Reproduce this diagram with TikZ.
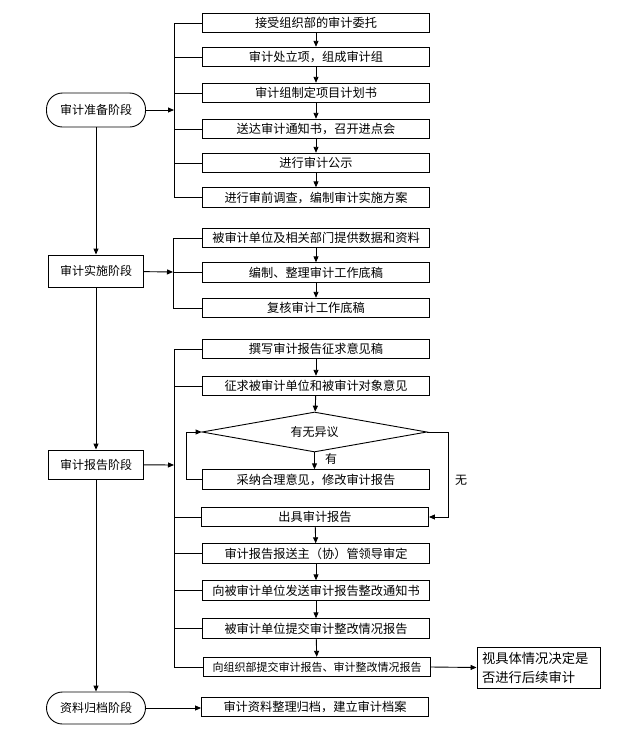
\documentclass[tikz,border=0pt]{standalone}
\usepackage{fontspec}
\setmainfont{Noto Sans CJK SC}
\usetikzlibrary{arrows.meta,shapes.geometric}
\begin{document}
\begin{tikzpicture}[x=1pt,y=-1pt, line width=0.9pt,
  box/.style={draw, rectangle, minimum width=227pt, minimum height=19.5pt, inner sep=0pt, font=\fontsize{12.2}{14}\selectfont},
  stage/.style={draw, rectangle, minimum width=95pt, minimum height=32pt, inner sep=0pt, font=\fontsize{12}{14}\selectfont},
  rstage/.style={stage, minimum width=99pt, rounded corners=16pt},
  dia/.style={draw, diamond, aspect=5.6, minimum width=225pt, minimum height=40pt, inner sep=0pt, font=\fontsize{12}{14}\selectfont},
  lbl/.style={font=\fontsize{12}{14}\selectfont, inner sep=0pt},
  arr/.style={-{Triangle[length=6pt,width=5pt]}}
  ]
\useasboundingbox (0,0) rectangle (625,737);

% stages
\node[rstage, minimum height=34pt] (s1) at (96,110) {审计准备阶段};
\node[stage] (s2) at (96,271) {审计实施阶段};
\node[stage, minimum height=29pt] (s3) at (96,464.5) {审计报告阶段};
\node[rstage] (s4) at (96,708) {资料归档阶段};

% boxes
\node[box] (b1) at (316,23) {接受组织部的审计委托};
\node[box] (b2) at (316,57) {审计处立项，组成审计组};
\node[box] (b3) at (316,93) {审计组制定项目计划书};
\node[box] (b4) at (316,129) {送达审计通知书，召开进点会};
\node[box] (b5) at (316,163) {进行审计公示};
\node[box] (b6) at (316,197.5) {进行审前调查，编制审计实施方案};
\node[box] (b7) at (316,238) {被审计单位及相关部门提供数据和资料};
\node[box] (b8) at (316,272.5) {编制、整理审计工作底稿};
\node[box] (b9) at (316,308) {复核审计工作底稿};
\node[box] (b10) at (316,349) {撰写审计报告征求意见稿};
\node[box] (b11) at (316,386) {征求被审计单位和被审计对象意见};
\node[dia] (d) at (314.5,432) {有无异议};
\node[box] (b12) at (316,479.5) {采纳合理意见，修改审计报告};
\node[box] (b13) at (315,517) {出具审计报告};
\node[box] (b14) at (316,553.5) {审计报告报送主（协）管领导审定};
\node[box] (b15) at (316,590.5) {向被审计单位发送审计报告整改通知书};
\node[box] (b16) at (316,628.5) {被审计单位提交审计整改情况报告};
\node[box, font=\fontsize{11}{13}\selectfont] (b17) at (317,667) {向组织部提交审计报告、审计整改情况报告};
\node[draw, rectangle, minimum width=123pt, minimum height=41pt, text width=113pt, inner sep=0pt, align=left, font=\fontsize{13.3}{19}\selectfont] (r) at (538.5,667.5) {视具体情况决定是\\否进行后续审计};
\node[box] (b18) at (315,707) {审计资料整理归档，建立审计档案};

% stage flow
\draw[arr] (s1) -- (s2);
\draw[arr] (s2) -- (s3);
\draw[arr] (s3) -- (s4);

% bracket 1
\coordinate (k1) at (174,110);
\draw[arr] (s1) -- (k1);
\draw (b1.west -| k1) -- (b6.west -| k1);
\foreach \b in {b1,b2,b3,b4,b5,b6} \draw (\b.west) -- (\b.west -| k1);
\foreach \a/\b in {b1/b2,b2/b3,b3/b4,b4/b5,b5/b6} \draw[arr] (\a) -- (\b);

% bracket 2
\coordinate (k2) at (173,272);
\draw[arr] (s2) -- (k2);
\draw (b7.west -| k2) -- (b9.west -| k2);
\foreach \b in {b7,b8,b9} \draw (\b.west) -- (\b.west -| k2);
\foreach \a/\b in {b7/b8,b8/b9} \draw[arr] (\a) -- (\b);

% bracket 3
\coordinate (k3) at (174,465);
\draw[arr] (s3) -- (k3);
\draw (b10.west -| k3) -- (b17.west -| k3);
\foreach \b in {b10,b11,b13,b14,b15,b16,b17} \draw (\b.west) -- (\b.west -| k3);
\foreach \a/\b in {b10/b11,b13/b14,b14/b15,b15/b16,b16/b17} \draw[arr] (\a) -- (\b);
\draw[arr] (b11) -- (d);
\draw[arr] (d.south) -- (d.south |- b12.north);
\node[lbl] (yes) at (331,459) {有};
\draw[arr] (b12.west) -- ++(-16,0) |- (d.west);
\draw[arr] (d.east) -- ++(21,0) |- (b13.east);
\node[lbl] (no) at (461,480) {无};
\draw[arr] (b17.east) -- (r.west);

% stage 4
\draw[arr] (s4.east) -- (s4.east -| b18.west);
\end{tikzpicture}
\end{document}
